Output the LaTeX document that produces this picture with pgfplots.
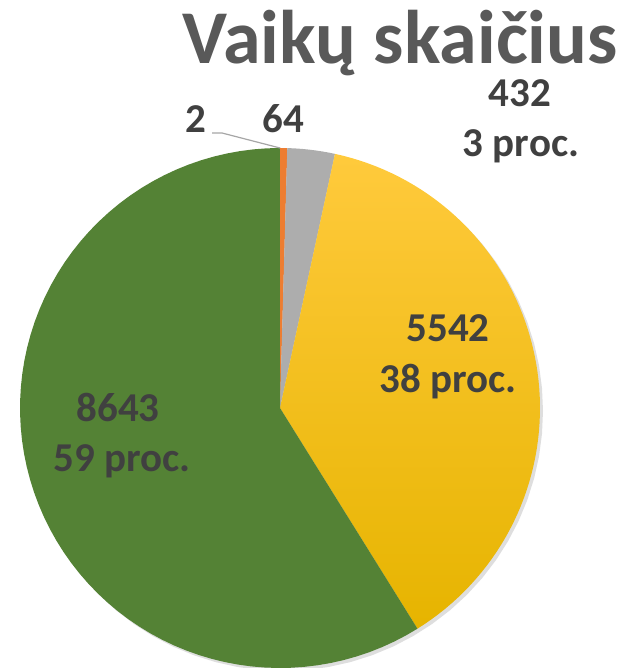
\documentclass[border=0pt]{standalone}
\usepackage{pgfplots}
\pgfplotsset{compat=1.18}
\usepackage{pgfplotstable}
\usepackage{fontspec}
\setmainfont{Carlito}
\definecolor{cOrange}{HTML}{ED7D31}
\definecolor{cGray}{HTML}{ADADAD}
\definecolor{cYelT}{HTML}{FFCA3C}
\definecolor{cYelB}{HTML}{E6B400}
\definecolor{cGreen}{HTML}{548235}
\definecolor{cLabel}{HTML}{404040}
\definecolor{cTitle}{HTML}{595959}
\definecolor{cLeader}{HTML}{A6A6A6}

\pgfplotstableread{
label value
a 2
b 64
c 432
d 5542
e 8643
}\piedata

% centre and radius in picture units (pixels)
\def\cx{280}\def\cy{260}\def\rr{260}

% total
\xdef\total{0}
\pgfplotsforeachungrouped \i in {0,...,4}{%
  \pgfplotstablegetelem{\i}{value}\of\piedata
  \pgfmathsetmacro\tmp{\total+\pgfplotsretval}%
  \xdef\total{\tmp}%
}

% coordinates of a sector from angle #1 to #2 (clockwise from top), centre #3,#4, radius #5
\newcommand\sectorcoords[5]{%
  \xdef\coords{(#3,#4)}%
  \pgfmathsetmacro\stp{(#2-#1)/72}%
  \foreach \k in {0,...,72}{%
    \pgfmathsetmacro\ang{#1+\k*\stp}%
    \pgfmathsetmacro\px{#3+#5*sin(\ang)}%
    \pgfmathsetmacro\py{#4+#5*cos(\ang)}%
    \xdef\coords{\coords (\px,\py)}%
  }%
}

\xdef\cum{0}
\newcommand\makeslice[2]{% row, macro name
  \pgfplotstablegetelem{#1}{value}\of\piedata
  \pgfmathsetmacro\frac{\pgfplotsretval/\total}%
  \pgfmathsetmacro\endang{\cum+360*\frac}%
  \sectorcoords{\cum}{\endang}{\cx}{\cy}{\rr}%
  \global\expandafter\let\csname #2\endcsname\coords
  \xdef\cum{\endang}%
}
\makeslice{0}{sA}
\makeslice{1}{sB}
\makeslice{2}{sC}
\makeslice{3}{sD}
\makeslice{4}{sE}
% shadow circle
\pgfmathsetmacro\shx{\cx+3}\pgfmathsetmacro\shy{\cy-3}
\sectorcoords{0}{360}{\shx}{\shy}{260}
\global\let\sShadow\coords

\begin{document}
\begin{tikzpicture}
\useasboundingbox (0,0) rectangle (620pt,668pt);
\begin{axis}[
  at={(0,0)}, anchor=south west,
  scale only axis, width=620pt, height=668pt,
  xmin=0, xmax=620, ymin=0, ymax=668,
  hide axis, clip=true,
]
\edef\temp{\noexpand\addplot[draw=none, fill=black, fill opacity=0.13] coordinates {\sShadow} -- cycle;}\temp
\edef\temp{\noexpand\addplot[draw=none, fill=cOrange] coordinates {\sA} -- cycle;}\temp
\edef\temp{\noexpand\addplot[draw=none, fill=cOrange] coordinates {\sB} -- cycle;}\temp
\edef\temp{\noexpand\addplot[draw=none, fill=cGray] coordinates {\sC} -- cycle;}\temp
\edef\temp{\noexpand\addplot[draw=none, top color=cYelT, bottom color=cYelB] coordinates {\sD} -- cycle;}\temp
\edef\temp{\noexpand\addplot[draw=none, fill=cGreen] coordinates {\sE} -- cycle;}\temp
\addplot[cLeader, line width=1.2pt] coordinates {(212,535) (222,535) (280,520)};

\node[anchor=base, inner sep=0pt, text=cTitle, font=\fontsize{76}{90}\selectfont\bfseries] at (axis cs:400,604) {Vaikų skaičius};
\begin{scope}[every node/.style={anchor=base, inner sep=0pt, text=cLabel, font=\fontsize{41}{49}\selectfont\bfseries}]
\node at (axis cs:520,561) {432};
\node at (axis cs:521,511) {3 proc.};
\node at (axis cs:448,326) {5542};
\node at (axis cs:448,275) {38 proc.};
\node at (axis cs:118,246) {8643};
\node at (axis cs:122,196) {59 proc.};
\node at (axis cs:196,535) {2};
\node at (axis cs:283,535) {64};
\end{scope}
\end{axis}
\end{tikzpicture}
\end{document}
